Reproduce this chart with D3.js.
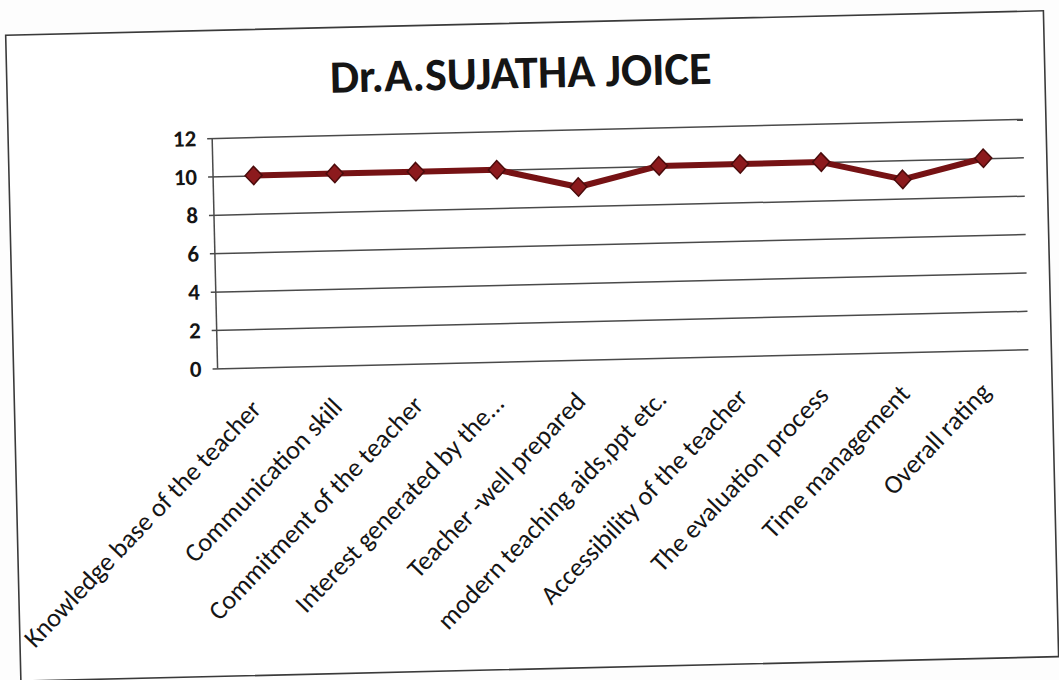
<!DOCTYPE html>
<html>
<head>
<meta charset="utf-8">
<script src="https://cdn.jsdelivr.net/npm/d3@7"></script>
<style>
  body { margin: 0; background: #fff; }
  text { font-family: Carlito, Lato, "Open Sans", sans-serif; fill: #151515; }
</style>
</head>
<body>
<svg id="chart" width="1059" height="680"></svg>
<script>
var chartTitle = 'Dr.A.SUJATHA JOICE';

var categories = [
  'Knowledge base of the teacher',
  'Communication skill',
  'Commitment of the teacher',
  'Interest generated by the...',
  'Teacher -well prepared',
  'modern teaching aids,ppt etc.',
  'Accessibility of the teacher',
  'The evaluation process',
  'Time management',
  'Overall rating'
];

var scores = [10, 10, 10, 10, 9, 10, 10, 10, 9, 10];

var yTicks = [0, 2, 4, 6, 8, 10, 12];

// layout (the printed sheet is photographed slightly tilted)
var W = 1059
  , H = 680
  , tilt = -1.35
  , frame = { x: 13, y: 23, w: 1038, h: 646 }
  , plot = { left: 217, right: 1028, top: 130.6, bottom: 361 }
  , lineColor = '#761214';

var svg = d3.select('#chart');

svg.append('rect')
   .attr('width', W)
   .attr('height', H)
   .attr('fill', '#fdfdfd');

var g = svg.append('g')
           .attr('transform', 'rotate(' + tilt + ',' + (W / 2) + ',' + (H / 2) + ')');

g.append('rect')
 .attr('x', frame.x)
 .attr('y', frame.y)
 .attr('width', frame.w)
 .attr('height', frame.h)
 .attr('fill', '#fff')
 .attr('stroke', '#3a3a3a')
 .attr('stroke-width', 1.6);

var x = d3.scalePoint()
          .domain(categories)
          .range([plot.left, plot.right])
          .padding(0.5);

var y = d3.scaleLinear()
          .domain([0, 12])
          .range([plot.bottom, plot.top]);

// gridlines + y axis
var yAxis = d3.axisLeft(y)
              .tickValues(yTicks)
              .tickSize(-(plot.right - plot.left))
              .tickPadding(16);

var yAxisG = g.append('g')
              .attr('transform', 'translate(' + plot.left + ',0)')
              .call(yAxis);

yAxisG.select('.domain').remove();
yAxisG.selectAll('.tick line')
      .attr('stroke', '#4a4a4a')
      .attr('stroke-width', 1.5)
      .attr('x1', -5);
yAxisG.selectAll('.tick text')
      .attr('font-size', 23)
      .attr('font-weight', 'bold')
      .style('font-family', 'Carlito, Lato, sans-serif')
      .attr('fill', '#151515');

g.append('line')
 .attr('x1', plot.left)
 .attr('x2', plot.left)
 .attr('y1', y(12))
 .attr('y2', y(0))
 .attr('stroke', '#4a4a4a')
 .attr('stroke-width', 1.5);

// category labels
var xAxis = d3.axisBottom(x).tickSize(0).tickPadding(0);

var xAxisG = g.append('g')
              .attr('transform', 'translate(0,' + plot.bottom + ')')
              .call(xAxis);

xAxisG.select('.domain').remove();
xAxisG.selectAll('.tick text')
      .attr('font-size', 20)
      .style('font-family', 'Carlito, Lato, sans-serif')
      .attr('fill', '#151515')
      .attr('text-anchor', 'end')
      .attr('dy', 0)
      .attr('y', 0)
      .attr('transform', 'translate(3,43) rotate(-45)');

// fit label size so the first label is about as long as in the print
var firstLabel = xAxisG.select('.tick text').node()
  , labelSize = 20 * 330 / firstLabel.getComputedTextLength();
xAxisG.selectAll('.tick text').attr('font-size', labelSize);

// series
var line = d3.line()
             .x(function (d, i) { return x(categories[i]); })
             .y(function (d) { return y(d); });

g.append('path')
 .datum(scores)
 .attr('d', line)
 .attr('fill', 'none')
 .attr('stroke', lineColor)
 .attr('stroke-width', 6)
 .attr('stroke-linejoin', 'round');

var diamond = {
  draw: function (ctx, size) {
    var r = Math.sqrt(size / 2);
    ctx.moveTo(0, -r);
    ctx.lineTo(r * 0.92, 0);
    ctx.lineTo(0, r);
    ctx.lineTo(-r * 0.92, 0);
    ctx.closePath();
  }
};

g.selectAll('path.marker')
 .data(scores)
 .enter()
 .append('path')
 .attr('class', 'marker')
 .attr('d', d3.symbol().type(diamond).size(170))
 .attr('transform', function (d, i) {
   return 'translate(' + x(categories[i]) + ',' + y(d) + ')';
 })
 .attr('fill', '#8c1a1d')
 .attr('stroke', '#4a0b0b')
 .attr('stroke-width', 1.5);

// title
var title = g.append('text')
             .attr('x', 527)
             .attr('y', 88)
             .attr('text-anchor', 'middle')
             .attr('font-weight', 'bold')
             .attr('font-size', 40)
             .style('font-family', 'Carlito, Lato, sans-serif')
             .text(chartTitle);

title.attr('font-size', 40 * 382 / title.node().getComputedTextLength());
</script>
</body>
</html>
